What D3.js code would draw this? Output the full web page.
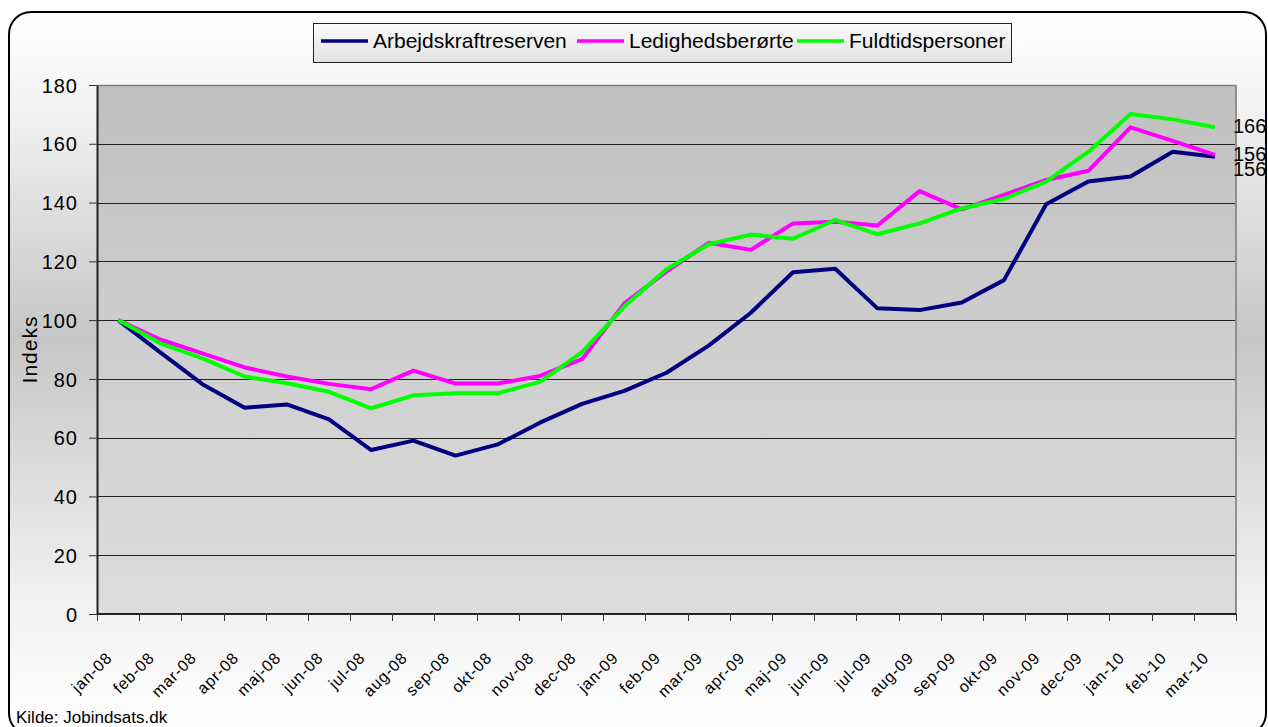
<!DOCTYPE html>
<html>
<head>
<meta charset="utf-8">
<script src="https://cdn.jsdelivr.net/npm/d3@7"></script>
<style>
  body { margin: 0; background: #fff; }
  svg { display: block; font-family: Arial, "Liberation Sans", sans-serif; }
</style>
</head>
<body>
<div id="plot"></div>
<script>
// months on the x axis
var months = ["jan-08","feb-08","mar-08","apr-08","maj-08","jun-08","jul-08","aug-08","sep-08",
  "okt-08","nov-08","dec-08","jan-09","feb-09","mar-09","apr-09","maj-09","jun-09","jul-09",
  "aug-09","sep-09","okt-09","nov-09","dec-09","jan-10","feb-10","mar-10"];

// index values (jan-08 = 100)
var arbejdskraftreserven = [100, 89, 78.2, 70.2, 71.3, 66.2, 55.8, 59.0, 53.9, 57.7, 65.1, 71.5, 75.9,
  82.1, 91.3, 102.5, 116.3, 117.5, 104.0, 103.4, 106.0, 113.6, 139.4, 147.2, 148.9, 157.3, 155.6];
var ledighedsberorte = [100, 93.4, 88.7, 83.9, 80.8, 78.3, 76.5, 82.8, 78.4, 78.4, 81.0, 86.7, 105.7,
  116.5, 126.3, 123.9, 132.9, 133.5, 132.2, 143.9, 137.7, 142.6, 147.7, 150.8, 165.6, 161.0, 156.2];
var fuldtidspersoner = [100, 92.1, 87.0, 80.8, 78.5, 75.6, 70.0, 74.4, 75.1, 75.1, 79.0, 89.1, 104.6,
  117.3, 125.8, 129.1, 127.7, 134.1, 129.2, 132.9, 138.0, 141.3, 147.1, 157.3, 170.1, 168.3, 165.6];

var seriesNames = ["Arbejdskraftreserven", "Ledighedsberørte", "Fuldtidspersoner"];
var yTicks = [0, 20, 40, 60, 80, 100, 120, 140, 160, 180];
var endLabels = ["156", "156", "166"];

var W = 1268, H = 727;
var margin = {top: 85, right: 32, bottom: 113, left: 97};
var width = W - margin.left - margin.right,
    height = H - margin.top - margin.bottom;

var series = [
  {name: seriesNames[0], values: arbejdskraftreserven, color: "#000080", label: endLabels[0], dy: 19},
  {name: seriesNames[1], values: ledighedsberorte, color: "#ff00ff", label: endLabels[1], dy: 6},
  {name: seriesNames[2], values: fuldtidspersoner, color: "#00ff00", label: endLabels[2], dy: 6}
];

var svg = d3.select("#plot").append("svg")
    .attr("width", W).attr("height", H);

var defs = svg.append("defs");
var bg = defs.append("linearGradient").attr("id", "bg")
    .attr("x1", 0).attr("y1", 0).attr("x2", 0).attr("y2", 1);
bg.append("stop").attr("offset", "0%").attr("stop-color", "#ffffff");
bg.append("stop").attr("offset", "12%").attr("stop-color", "#f4f4f4");
bg.append("stop").attr("offset", "45%").attr("stop-color", "#c6c6c6");
bg.append("stop").attr("offset", "82%").attr("stop-color", "#f2f2f2");
bg.append("stop").attr("offset", "100%").attr("stop-color", "#ffffff");

var pg = defs.append("linearGradient").attr("id", "pg")
    .attr("x1", 0).attr("y1", 0).attr("x2", 0).attr("y2", 1);
pg.append("stop").attr("offset", "0%").attr("stop-color", "#c0c0c0");
pg.append("stop").attr("offset", "100%").attr("stop-color", "#dddddd");

var lg = defs.append("linearGradient").attr("id", "lg")
    .attr("x1", 0).attr("y1", 0).attr("x2", 0).attr("y2", 1);
lg.append("stop").attr("offset", "0%").attr("stop-color", "#fbfbfb");
lg.append("stop").attr("offset", "100%").attr("stop-color", "#e2e2e2");

// chart area with rounded border (bottom edge runs just past the picture)
svg.append("rect")
    .attr("x", 9).attr("y", 12).attr("width", 1257).attr("height", 723)
    .attr("rx", 22).attr("ry", 22)
    .style("fill", "url(#bg)").style("stroke", "#000").style("stroke-width", 2);

var g = svg.append("g")
    .attr("transform", "translate(" + margin.left + "," + margin.top + ")");

var x = d3.scaleBand().domain(months).range([0, width]).padding(0);
var y = d3.scaleLinear().domain([0, 180]).range([height, 0]);
var cx = function (i) { return x(months[i]) + x.bandwidth() / 2; };

// plot area
g.append("rect")
    .attr("x", 0).attr("y", 0).attr("width", width).attr("height", height)
    .style("fill", "url(#pg)");

// gridlines
g.append("g").selectAll("line")
    .data(yTicks.filter(function (d) { return d > 0 && d < 180; }))
    .enter().append("line")
    .attr("x1", 0).attr("x2", width)
    .attr("y1", function (d) { return Math.round(y(d)) + 0.5; })
    .attr("y2", function (d) { return Math.round(y(d)) + 0.5; })
    .style("stroke", "#222").style("stroke-width", 1);

// top and right border of plot area
g.append("line").attr("x1", 0).attr("x2", width).attr("y1", 0.5).attr("y2", 0.5)
    .style("stroke", "#808080").style("stroke-width", 1.5);
g.append("line").attr("x1", width).attr("x2", width).attr("y1", 0).attr("y2", height)
    .style("stroke", "#909090").style("stroke-width", 2);

// y axis
var yAxis = g.append("g")
    .call(d3.axisLeft(y).tickValues(yTicks).tickSize(8).tickPadding(11).tickSizeOuter(0));
yAxis.select(".domain").style("stroke", "#222").style("stroke-width", 2);
yAxis.selectAll(".tick line").style("stroke", "#333");
yAxis.selectAll("text")
    .style("font-size", "20px").style("letter-spacing", "1px").style("fill", "#000")
    .attr("dy", "0.36em");

// x axis: ticks on band borders, labels in band centres
g.append("line").attr("x1", 0).attr("x2", width).attr("y1", height).attr("y2", height)
    .style("stroke", "#222").style("stroke-width", 2);
g.append("g").selectAll("line")
    .data(months.map(function (m) { return x(m); }).concat([width]))
    .enter().append("line")
    .attr("x1", function (d) { return Math.round(d) + 0.5; })
    .attr("x2", function (d) { return Math.round(d) + 0.5; })
    .attr("y1", height).attr("y2", height + 7)
    .style("stroke", "#333").style("stroke-width", 1);
g.append("g").selectAll("text")
    .data(months)
    .enter().append("text")
    .attr("transform", function (d, i) {
        return "translate(" + (cx(i) - 5) + "," + (height + 45) + ") rotate(-45)";
    })
    .attr("text-anchor", "end")
    .style("font-size", "16px")
    .style("letter-spacing", "0.8px")
    .text(function (d) { return d; });

// y axis title
svg.append("text")
    .attr("transform", "translate(37," + (margin.top + y(90)) + ") rotate(-90)")
    .attr("text-anchor", "middle")
    .style("font-size", "21px")
    .style("letter-spacing", "1px")
    .text("Indeks");

// lines
var line = d3.line()
    .x(function (d, i) { return cx(i); })
    .y(function (d) { return y(d); });

series.forEach(function (s) {
    g.append("path")
        .datum(s.values)
        .attr("d", line)
        .style("fill", "none")
        .style("stroke", s.color)
        .style("stroke-width", 4)
        .style("stroke-linejoin", "round");
});

// end value labels
series.forEach(function (s) {
    var last = s.values.length - 1;
    svg.append("text")
        .attr("x", margin.left + cx(last) + 18)
        .attr("y", margin.top + y(s.values[last]) + s.dy)
        .style("font-size", "20px")
        .text(s.label);
});

// legend
var legend = svg.append("g");
legend.append("rect")
    .attr("x", 313.5).attr("y", 23.5).attr("width", 698).attr("height", 39)
    .style("fill", "url(#lg)").style("stroke", "#222").style("stroke-width", 1);
var legendX = [321, 577, 797];
series.forEach(function (s, i) {
    legend.append("line")
        .attr("x1", legendX[i]).attr("x2", legendX[i] + 47)
        .attr("y1", 41).attr("y2", 41)
        .style("stroke", s.color).style("stroke-width", 3.5);
    legend.append("text")
        .attr("x", legendX[i] + 52).attr("y", 48)
        .style("font-size", "21px")
        .text(s.name);
});

// source
svg.append("text")
    .attr("x", 16).attr("y", 723)
    .style("font-size", "17px")
    .text("Kilde: Jobindsats.dk");
</script>
</body>
</html>
